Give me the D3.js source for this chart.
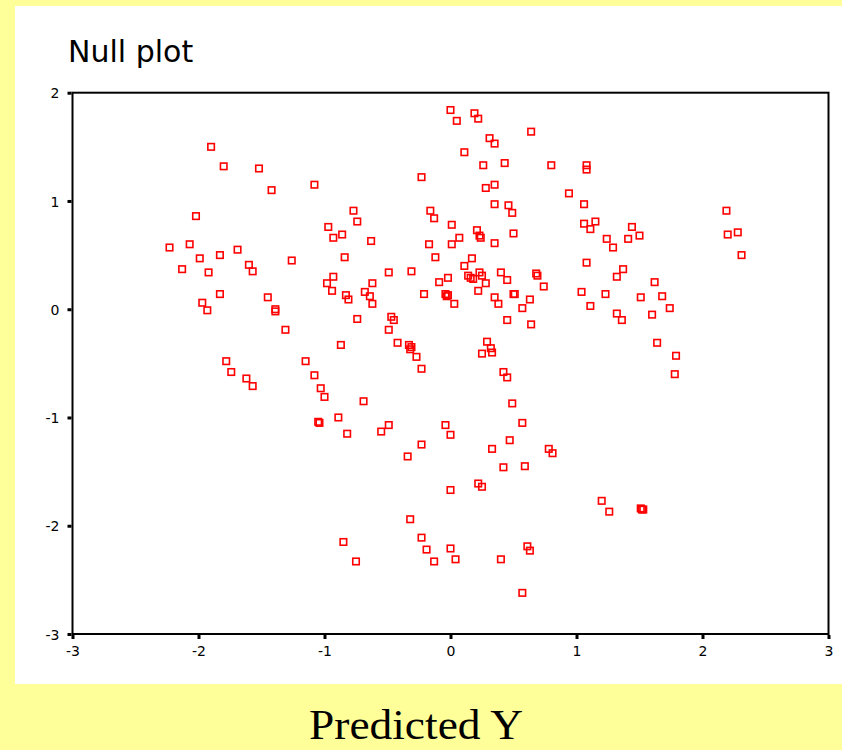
<!DOCTYPE html>
<html>
<head>
<meta charset="utf-8">
<script src="https://cdn.jsdelivr.net/npm/d3@7"></script>
<style>
  html, body { margin: 0; padding: 0; background: #ffff99; }
  svg { display: block; }
</style>
</head>
<body>
<svg id="chart" width="842" height="750"></svg>
<script>
// ---- data ----
const title = "Null plot";
const xLabel = "Predicted Y";
const xTicks = [-3, -2, -1, 0, 1, 2, 3];
const yTicks = [-3, -2, -1, 0, 1, 2];
const xDomain = [-3, 3];
const yDomain = [-3, 2];

const predicted = [
  -1.90,-1.80,-1.52,-1.42,-1.08,-2.02,-0.77,-0.74,-0.97,-0.93,-0.86,-2.23,-2.07,-1.99,-1.83,-1.69,-1.26,-0.84,
  -2.13,-1.92,-1.60,-1.57,-0.93,-0.98,-0.94,-1.83,-1.45,-0.83,-0.81,-1.97,-1.93,-1.39,-1.39,-0.74,-1.31,-0.87,
  -1.78,-1.15,
  0.00,0.05,0.19,0.22,0.64,0.31,0.35,0.11,0.26,0.43,0.80,-0.23,0.28,0.35,-0.16,-0.13,0.35,0.46,0.49,0.01,
  0.21,0.24,0.23,0.07,0.01,-0.17,0.35,0.50,-0.63,-0.12,0.17,0.11,-0.49,-0.31,-0.09,-0.02,0.14,0.16,0.18,0.23,
  0.25,0.28,0.40,0.45,0.68,0.69,0.74,-0.62,-0.68,-0.64,-0.62,-0.21,-0.04,-0.03,-0.02,0.03,0.22,0.35,0.38,0.50,
  0.51,0.63,0.57,-0.47,-0.45,-0.49,0.45,0.64,-0.42,-0.33,-0.32,-0.31,-0.27,0.29,0.32,0.33,0.25,
  1.08,1.08,0.94,1.06,1.06,1.15,1.11,1.24,1.29,1.44,1.41,1.50,2.19,2.20,2.28,2.31,1.08,1.37,1.32,1.62,
  1.04,1.23,1.51,1.68,1.11,1.32,1.36,1.60,1.74,1.64,1.79,
  -1.74,-1.62,-1.57,-1.08,-1.03,-1.00,-1.05,-1.04,-0.89,-0.82,-0.85,-0.75,
  -0.23,0.42,0.45,-0.69,0.49,-0.49,-0.55,-0.04,0.00,0.57,-0.23,-0.34,0.47,0.33,0.78,0.81,0.42,0.59,0.22,0.25,
  0.00,-0.32,-0.23,-0.19,0.00,-0.13,0.04,0.40,0.61,0.63,0.57,
  1.78,1.20,1.26,1.51,1.53,1.52
];
const residual = [
  1.50,1.32,1.30,1.10,1.15,0.86,0.91,0.81,0.76,0.66,0.69,0.57,0.60,0.47,0.50,0.55,0.45,0.48,
  0.37,0.34,0.41,0.35,0.30,0.24,0.17,0.14,0.11,0.13,0.09,0.06,-0.01,0.00,-0.02,-0.09,-0.19,-0.33,
  -0.48,-0.48,
  1.84,1.74,1.81,1.76,1.64,1.58,1.53,1.45,1.33,1.35,1.33,1.22,1.12,1.15,0.91,0.84,0.97,0.96,0.89,0.78,
  0.73,0.66,0.68,0.66,0.60,0.60,0.61,0.70,0.63,0.48,0.47,0.40,0.34,0.35,0.25,0.29,0.31,0.29,0.28,0.34,
  0.31,0.24,0.34,0.27,0.33,0.31,0.21,0.24,0.16,0.12,0.05,0.14,0.14,0.12,0.13,0.05,0.17,0.11,0.05,0.14,
  0.14,0.09,0.01,-0.07,-0.10,-0.19,-0.10,-0.14,-0.31,-0.33,-0.37,-0.35,-0.44,-0.30,-0.36,-0.40,-0.41,
  1.33,1.29,1.07,0.97,0.79,0.81,0.74,0.65,0.57,0.76,0.65,0.68,0.91,0.69,0.71,0.50,0.43,0.37,0.30,0.25,
  0.16,0.14,0.11,0.12,0.03,-0.04,-0.10,-0.05,0.01,-0.31,-0.43,
  -0.58,-0.64,-0.71,-0.61,-0.73,-0.81,-1.04,-1.05,-1.00,-1.15,-2.15,-2.33,
  -0.55,-0.58,-0.63,-0.85,-0.87,-1.07,-1.13,-1.07,-1.16,-1.05,-1.25,-1.36,-1.21,-1.29,-1.29,-1.33,-1.46,-1.45,-1.61,-1.64,
  -1.67,-1.94,-2.11,-2.22,-2.21,-2.33,-2.31,-2.31,-2.19,-2.23,-2.62,
  -0.60,-1.77,-1.87,-1.84,-1.85,-1.85
];

// ---- layout ----
const svg = d3.select("#chart");
const W = 842, H = 750;
const plot = { left: 72.5, right: 828.5, top: 92.7, bottom: 634 };

// white panel
svg.append("rect").attr("x", 15).attr("y", 6).attr("width", W - 15).attr("height", 678).attr("fill", "#ffffff");

const x = d3.scaleLinear().domain(xDomain).range([plot.left, plot.right]);
const y = d3.scaleLinear().domain(yDomain).range([plot.bottom, plot.top]);

// title
svg.append("text")
  .attr("x", 68).attr("y", 62)
  .attr("font-family", "'DejaVu Sans', Verdana, sans-serif")
  .attr("font-size", 30)
  .attr("fill", "#000")
  .text(title);

// frame
svg.append("rect")
  .attr("x", plot.left).attr("y", plot.top)
  .attr("width", plot.right - plot.left).attr("height", plot.bottom - plot.top)
  .attr("fill", "none").attr("stroke", "#000").attr("stroke-width", 2);

// axes
const fmt = d => String(d);
const xAxis = d3.axisBottom(x).tickValues(xTicks).tickFormat(fmt).tickSize(4).tickSizeOuter(0).tickPadding(7);
const yAxis = d3.axisLeft(y).tickValues(yTicks).tickFormat(fmt).tickSize(4).tickSizeOuter(0).tickPadding(8);

const gx = svg.append("g").attr("transform", `translate(0,${plot.bottom + 1})`).call(xAxis);
const gy = svg.append("g").attr("transform", `translate(${plot.left - 1},0)`).call(yAxis);
[gx, gy].forEach(g => {
  g.select(".domain").remove();
  g.selectAll(".tick line").attr("stroke", "#000").attr("stroke-width", 3);
  g.selectAll(".tick text")
    .attr("font-family", "'DejaVu Sans', Verdana, sans-serif")
    .attr("font-size", 14)
    .attr("fill", "#000");
});
gy.selectAll(".tick text").attr("dy", "0.36em");

// points
const pts = predicted.map((d, i) => ({ px: d, py: residual[i] }));
const s = 6.5;
svg.append("g").selectAll("rect.pt").data(pts).join("rect")
  .attr("class", "pt")
  .attr("x", d => x(d.px) - s / 2)
  .attr("y", d => y(d.py) - s / 2)
  .attr("width", s).attr("height", s)
  .attr("fill", "none")
  .attr("stroke", "#ff0000")
  .attr("stroke-width", 1.6);

// x-axis title
svg.append("text")
  .attr("x", 416).attr("y", 739)
  .attr("text-anchor", "middle")
  .attr("font-family", "'Liberation Serif', 'Times New Roman', serif")
  .attr("font-size", 42)
  .attr("textLength", 214)
  .attr("lengthAdjust", "spacingAndGlyphs")
  .attr("fill", "#000")
  .text(xLabel);
</script>
</body>
</html>
